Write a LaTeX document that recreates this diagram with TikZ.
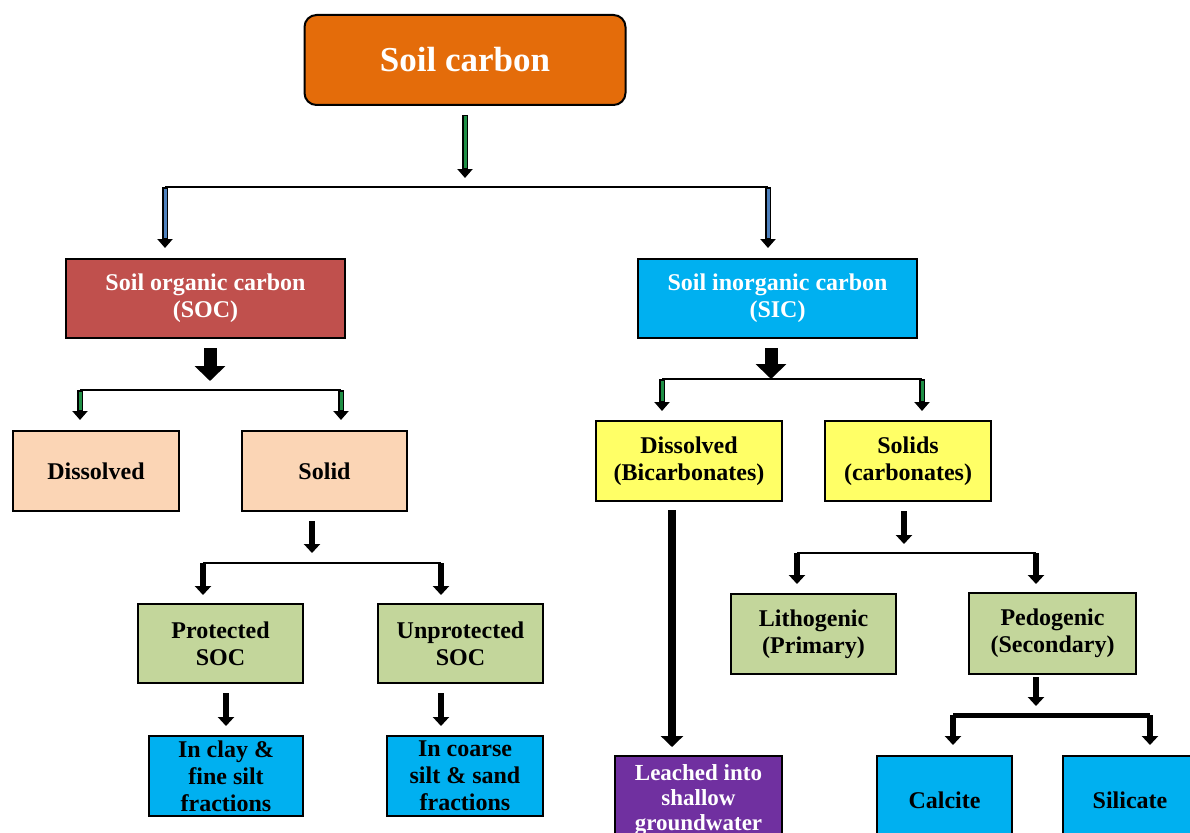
\documentclass[tikz,border=0pt]{standalone}
\usepackage{fontspec}
\setmainfont{Liberation Serif}
\usetikzlibrary{arrows.meta, positioning}

\definecolor{carbonorange}{HTML}{E46C0A}
\definecolor{socred}{HTML}{C0504D}
\definecolor{sicblue}{HTML}{00B0F0}
\definecolor{peach}{HTML}{FBD5B5}
\definecolor{paleyellow}{HTML}{FFFF66}
\definecolor{olivegreen}{HTML}{C3D69B}
\definecolor{leachpurple}{HTML}{7030A0}
\definecolor{shaftgreen}{HTML}{1F8F45}
\definecolor{shaftblue}{HTML}{4F81BD}

\tikzset{
  box/.style={draw=black, line width=2pt, align=center, inner sep=0pt,
    font=\fontsize{24}{27}\selectfont\bfseries},
  bar/.style={line width=2.5pt},
  hollow/.style={line width=6.5pt, -{Triangle[width=15pt,length=9pt]}},
  shaft/.style={line width=3pt},
  plainarrow/.style={line width=6pt, -{Triangle[width=16pt,length=9pt]}},
  blockarrow/.style={line width=13pt, -{Triangle[width=30pt,length=15pt]}}
}

\begin{document}
\begin{tikzpicture}[x=1pt,y=-1pt]
\useasboundingbox (0,0) rectangle (1190,832);
%boxes
\node[box, rounded corners=12pt, fill=carbonorange, text=white, font=\fontsize{35}{40}\selectfont\bfseries,
  minimum width=321pt, minimum height=90pt] (soil) at (465,60) {Soil carbon};
\node[box, fill=socred, text=white, minimum width=279pt, minimum height=79pt] (soc) at (205.5,298.5) {Soil organic carbon\\(SOC)};
\node[box, fill=sicblue, text=white, minimum width=279pt, minimum height=79pt] (sic) at (777.5,298.5) {Soil inorganic carbon\\(SIC)};
\node[box, fill=peach, minimum width=166pt, minimum height=80pt] (dis1) at (96,471) {Dissolved};
\node[box, fill=peach, minimum width=165pt, minimum height=80pt] (sol1) at (324.5,471) {Solid};
\node[box, fill=paleyellow, minimum width=186pt, minimum height=80pt] (dis2) at (689,461) {Dissolved\\(Bicarbonates)};
\node[box, fill=paleyellow, minimum width=166pt, minimum height=80pt] (sol2) at (908,461) {Solids\\(carbonates)};
\node[box, fill=olivegreen, minimum width=165pt, minimum height=79pt] (prot) at (220.5,643.5) {Protected\\SOC};
\node[box, fill=olivegreen, minimum width=165pt, minimum height=79pt] (unprot) at (460.5,643.5) {Unprotected\\SOC};
\node[box, fill=sicblue, minimum width=154pt, minimum height=80pt] (clay) at (226,776) {In clay \&\\fine silt\\fractions};
\node[box, fill=sicblue, minimum width=156pt, minimum height=80pt] (coarse) at (465,776) {In coarse\\silt \& sand\\fractions};
\node[box, fill=leachpurple, text=white, minimum width=167pt, minimum height=88pt,
  font=\fontsize{23}{25}\selectfont\bfseries] (leach) at (698.5,800) {Leached into\\shallow\\groundwater};
\node[box, fill=olivegreen, minimum width=165pt, minimum height=80pt] (litho) at (813.5,634) {Lithogenic\\(Primary)};
\node[box, fill=olivegreen, minimum width=167pt, minimum height=81pt] (pedo) at (1052.5,633.5) {Pedogenic\\(Secondary)};
\node[box, fill=sicblue, minimum width=135pt, minimum height=88pt] (calcite) at (944.5,800) {Calcite};
\node[box, fill=sicblue, minimum width=134pt, minimum height=88pt] (silicate) at (1130,800) {Silicate};

%soil carbon split
\coordinate (top) at (465,187);
\coordinate (topL) at (165,187);
\coordinate (topR) at (768,187);
\draw[hollow, shorten <=9pt, shorten >=9pt] (soil.south) -- (top);
\draw[shaft, shaftgreen, shorten <=10.5pt, shorten >=19pt] (soil.south) -- (top);
\draw[bar] (topL) -- (topR);
\draw[hollow, shorten >=10pt] (topL) -- (topL |- soc.north);
\draw[shaft, shaftblue, shorten <=2pt, shorten >=20pt] (topL) -- (topL |- soc.north);
\draw[hollow, shorten >=10pt] (topR) -- (topR |- sic.north);
\draw[shaft, shaftblue, shorten <=2pt, shorten >=20pt] (topR) -- (topR |- sic.north);

%organic carbon split
\coordinate (socJ) at (210,390);
\coordinate (socL) at (80,390);
\coordinate (socR) at (341,390);
\draw[blockarrow, shorten <=9pt, shorten >=9pt] (soc.south -| socJ) -- (socJ);
\draw[bar] (socL) -- (socR);
\draw[hollow, shorten >=10pt] (socL) -- (socL |- dis1.north);
\draw[shaft, shaftgreen, shorten <=2pt, shorten >=20pt] (socL) -- (socL |- dis1.north);
\draw[hollow, shorten >=10pt] (socR) -- (socR |- sol1.north);
\draw[shaft, shaftgreen, shorten <=2pt, shorten >=20pt] (socR) -- (socR |- sol1.north);

%inorganic carbon split
\coordinate (sicJ) at (771,379);
\coordinate (sicL) at (662,379);
\coordinate (sicR) at (922,379);
\draw[blockarrow, shorten <=9pt] (sic.south -| sicJ) -- (sicJ);
\draw[bar] (sicL) -- (sicR);
\draw[hollow, shorten >=9pt] (sicL) -- (sicL |- dis2.north);
\draw[shaft, shaftgreen, shorten <=2pt, shorten >=19pt] (sicL) -- (sicL |- dis2.north);
\draw[hollow, shorten >=9pt] (sicR) -- (sicR |- sol2.north);
\draw[shaft, shaftgreen, shorten <=2pt, shorten >=19pt] (sicR) -- (sicR |- sol2.north);

%solid SOC
\coordinate (solJ) at (312,563);
\coordinate (solL) at (203,563);
\coordinate (solR) at (441,563);
\draw[plainarrow, shorten <=9pt, shorten >=10pt] (sol1.south -| solJ) -- (solJ);
\draw[bar] (solL) -- (solR);
\draw[plainarrow, shorten >=8pt] (solL) -- (solL |- prot.north);
\draw[plainarrow, shorten >=8pt] (solR) -- (solR |- unprot.north);
\draw[plainarrow, shorten <=9pt, shorten >=9pt] (clay.north |- prot.south) -- (clay.north);
\draw[plainarrow, shorten <=9pt, shorten >=9pt] (unprot.south -| solR) -- (coarse.north -| solR);

%dissolved bicarbonates
\coordinate (leachcol) at (672,0);
\draw[line width=8pt, -{Triangle[width=22pt,length=11pt]}, shorten <=8pt, shorten >=8pt]
  (dis2.south -| leachcol) -- (leach.north -| leachcol);

%solid carbonates
\coordinate (carbJ) at (904,553);
\coordinate (carbL) at (797,553);
\coordinate (carbR) at (1036,553);
\draw[plainarrow, shorten <=9pt, shorten >=9pt] (sol2.south -| carbJ) -- (carbJ);
\draw[bar] (carbL) -- (carbR);
\draw[plainarrow, shorten >=9pt] (carbL) -- (carbL |- litho.north);
\draw[plainarrow, shorten >=8pt] (carbR) -- (carbR |- pedo.north);

%pedogenic split
\coordinate (pedJ) at (1036,715);
\coordinate (pedL) at (953,715);
\coordinate (pedR) at (1150,715);
\draw[plainarrow, shorten <=2pt, shorten >=9pt] (pedo.south -| pedJ) -- (pedJ);
\draw[line width=5pt] (pedL) -- (pedR);
\draw[plainarrow, shorten >=10pt] (pedL) -- (pedL |- calcite.north);
\draw[plainarrow, shorten >=10pt] (pedR) -- (pedR |- silicate.north);
\end{tikzpicture}
\end{document}
